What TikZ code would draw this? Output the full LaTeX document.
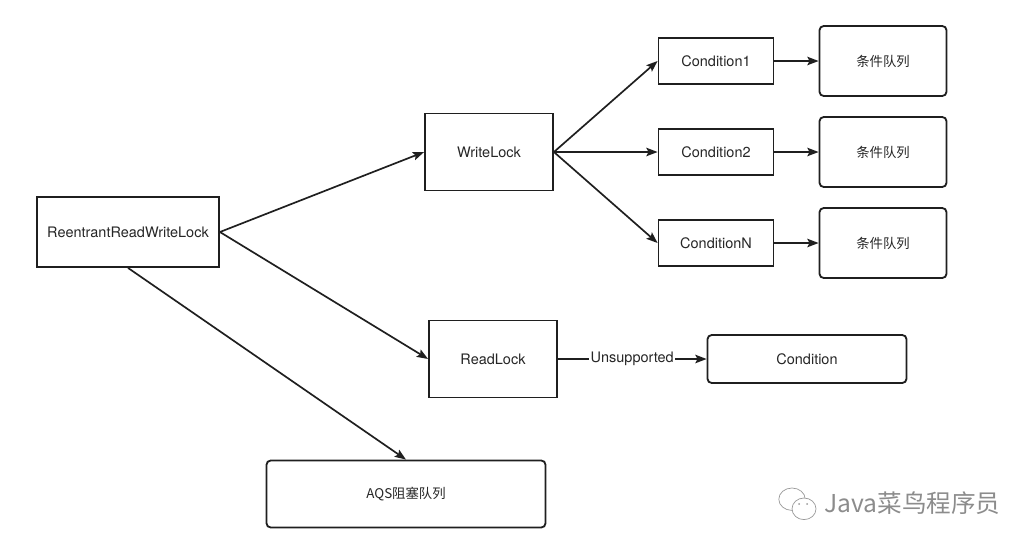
\documentclass[tikz,border=0pt]{standalone}
\usepackage{fontspec}
\setmainfont{TeX Gyre Heros}
\newfontfamily\cjk{Noto Sans CJK SC}
\usetikzlibrary{positioning, arrows.meta}

\begin{document}
\begin{tikzpicture}[
    ->, >={Stealth[length=8pt, width=6pt, inset=1.5pt]},
    line width=1.2pt, color=black!88, text=black!85,
    node distance=2cm,
    box/.style={draw, -, rectangle, line width=1.3pt, font=\fontsize{10.3}{12}\selectfont},
    qbox/.style={box, rounded corners=3pt, font=\cjk\fontsize{9.5}{11}\selectfont},
    cbox/.style={box, minimum width=2.875cm, minimum height=1.15cm},
    lockbox/.style={box, minimum width=3.2cm, minimum height=1.925cm}
]

    % Canvas
    \useasboundingbox (0,0) rectangle (25.875,-13.675);

    % Left Level
    \node[box, minimum width=4.55cm, minimum height=1.75cm] (RRWL) at (3.2,-5.8) {ReentrantReadWriteLock};

    % Second Level
    \node[lockbox] (WRITE) at (12.225,-3.8) {WriteLock};
    \node[lockbox] (READ) at (12.325,-8.975) {ReadLock};
    \node[qbox, minimum width=6.975cm, minimum height=1.675cm] (AQS) at (10.15,-12.35) {AQS阻塞队列};

    % Conditions of WriteLock
    \node[cbox, right of=WRITE, node distance=5.675cm] (COND2) {Condition2};
    \node[cbox, above of=COND2, node distance=2.275cm] (COND1) {Condition1};
    \node[cbox, below of=COND2, node distance=2.275cm] (CONDN) {ConditionN};

    % Queues
    \node[qbox, minimum width=3.175cm, minimum height=1.75cm, right of=COND1, node distance=4.175cm] (QUEUE1) {条件队列};
    \node[qbox, minimum width=3.175cm, minimum height=1.75cm, right of=COND2, node distance=4.175cm] (QUEUE2) {条件队列};
    \node[qbox, minimum width=3.175cm, minimum height=1.75cm, right of=CONDN, node distance=4.175cm] (QUEUEN) {条件队列};

    % Condition of ReadLock
    \node[box, rounded corners=3pt, minimum width=4.975cm, minimum height=1.2cm, right of=READ, node distance=7.85cm] (COND) {Condition};

    % Edges
    \path (RRWL.east) edge (WRITE.west)
          (RRWL.east) edge (READ.west)
          (RRWL.south) edge (AQS.north);

    \path (WRITE.east) edge (COND1.west)
          (WRITE.east) edge (COND2.west)
          (WRITE.east) edge (CONDN.west);

    \path (COND1) edge (QUEUE1)
          (COND2) edge (QUEUE2)
          (CONDN) edge (QUEUEN);

    % ReadLock has no condition
    \path (READ) edge node[fill=white, inner sep=1pt, font=\fontsize{10.3}{12}\selectfont] {Unsupported} (COND);

    % Watermark
    \begin{scope}[-, color=black!40, line width=0.5pt]
        \draw (19.8,-12.48) ellipse (0.33cm and 0.28cm);
        \draw[fill=white] (20.1,-12.72) ellipse (0.3cm and 0.27cm);
        \fill (19.98,-12.6) circle (0.7pt) (20.18,-12.6) circle (0.7pt);
        \node[anchor=west, text=black!45, inner sep=0pt, font=\cjk\fontsize{17.5}{20}\selectfont] (MARK) at (20.6,-12.58) {Java菜鸟程序员};
    \end{scope}

\end{tikzpicture}
\end{document}
